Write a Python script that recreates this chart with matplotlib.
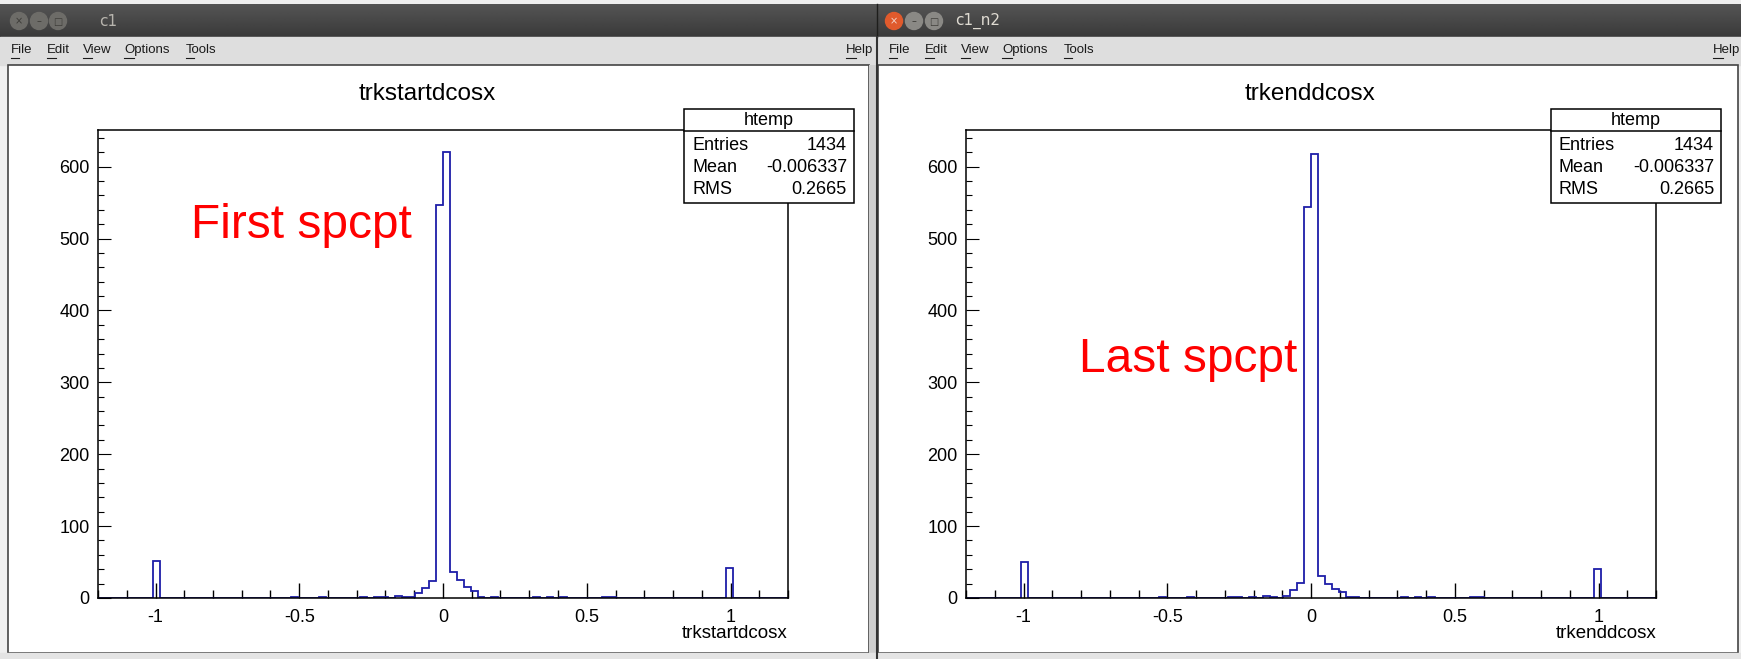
import numpy as np
import matplotlib.pyplot as plt
from matplotlib.patches import Rectangle, Circle
from matplotlib.ticker import MultipleLocator, FixedLocator

plt.rcParams['font.family'] = ['Liberation Sans', 'DejaVu Sans']
plt.rcParams['axes.unicode_minus'] = False

W, H, DPI = 1741, 659, 100

# ROOT htemp binning
nbins = 100
xlow, xhigh = -1.2, 1.2

# non-empty bins (bin centre, entries) read off the two canvases
start_x = [-0.996, -0.516, -0.420, -0.276, -0.228, -0.204, -0.156, -0.132, -0.108,
           -0.084, -0.060, -0.036, -0.012, 0.012, 0.036, 0.060, 0.084, 0.108,
           0.132, 0.180, 0.324, 0.372, 0.420, 0.564, 0.588, 0.996]
start_counts = [52, 1, 2, 1, 1, 1, 3, 2, 2,
                7, 14, 24, 547, 621, 36, 25, 15, 10,
                2, 1, 1, 1, 1, 1, 2, 42]

end_x = [-0.996, -0.516, -0.420, -0.276, -0.252, -0.204, -0.156, -0.132,
         -0.084, -0.060, -0.036, -0.012, 0.012, 0.036, 0.060, 0.084, 0.108,
         0.132, 0.156, 0.324, 0.372, 0.420, 0.564, 0.588, 0.996]
end_counts = [50, 1, 1, 1, 1, 1, 3, 1,
              3, 11, 21, 544, 618, 31, 19, 13, 9,
              1, 1, 1, 1, 1, 1, 1, 40]

stat_labels = ['Entries', 'Mean', 'RMS']
stat_values = ['1434', '-0.006337', '0.2665']

x_major = [-1, -0.5, 0, 0.5, 1]
x_major_labels = ['-1', '-0.5', '0', '0.5', '1']
y_major = [0, 100, 200, 300, 400, 500, 600]

fig = plt.figure(figsize=(W / DPI, H / DPI), dpi=DPI)


def rect_px(x0, y0, x1, y1):
    return [x0 / W, 1 - y1 / H, (x1 - x0) / W, (y1 - y0) / H]


# ---- window decoration (pixel coordinates, y down) ----
bg = fig.add_axes([0, 0, 1, 1], zorder=0)
bg.axis('off')
bg.add_patch(Rectangle((0, 0), W, H, color='#efefef', zorder=0))

# dark title bars with a slight vertical gradient
grad = np.linspace(0.33, 0.23, 32)[:, None] * np.ones((1, 2))
for x0, x1 in [(0, 877), (877, W)]:
    bg.imshow(grad, cmap='gray', vmin=0, vmax=1, extent=(x0, x1, 37, 4),
              aspect='auto', origin='upper', zorder=1, interpolation='bilinear')
bg.plot([877, 877], [4, 37], color='#1e1e1c', lw=1, zorder=2)

# menu bar
bg.add_patch(Rectangle((0, 37), W, 28, color='#dedede', zorder=1))

# canvases
bg.add_patch(Rectangle((8, 65), 861, 588, fc='white', ec='#444444', lw=1.2, zorder=1))
bg.add_patch(Rectangle((869, 65), 7, 588, fc='#cfcfcf', ec='none', zorder=1))
bg.add_patch(Rectangle((878, 65), 860, 588, fc='white', ec='#444444', lw=1.2, zorder=1))
bg.add_patch(Rectangle((0, 653), W, 6, color='#e4e4e4', zorder=1))
bg.plot([877, 877], [37, 659], color='#333333', lw=1.5, zorder=2)

# title bar buttons
for cx, col, glyph, gc in [(19, '#6d6c68', '×', '#3c3b37'), (39, '#6d6c68', '–', '#3c3b37'),
                           (58, '#6d6c68', '□', '#3c3b37'),
                           (894, '#e05a2c', '×', '#f4d9cf'), (914, '#8a8985', '–', '#3c3b37'),
                           (934, '#8a8985', '□', '#3c3b37')]:
    bg.add_patch(Circle((cx, 21), 8.5, color=col, zorder=3))
    bg.text(cx, 21.5, glyph, ha='center', va='center', fontsize=7, color=gc,
            family='DejaVu Sans', zorder=4)
bg.text(99, 21, 'c1', ha='left', va='center', fontsize=11, color='#b8b5ae',
        family='DejaVu Sans', zorder=4)
bg.text(955, 21, 'c1_n2', ha='left', va='center', fontsize=11, color='#dfdbd2',
        family='DejaVu Sans', zorder=4)

menu_items = []
for off in [0, 878]:
    for x, s in [(11, 'File'), (47, 'Edit'), (83, 'View'), (124, 'Options'), (186, 'Tools')]:
        menu_items.append((x + off, s))
menu_items.append((846, 'Help'))
menu_items.append((1713, 'Help'))
for x, s in menu_items:
    bg.text(x, 50, s, ha='left', va='center', fontsize=9.5, color='#1a1a1a', zorder=4)

bg.set_xlim(0, W)
bg.set_ylim(H, 0)

# ---- histograms ----
edges = np.linspace(xlow, xhigh, nbins + 1)


def draw_hist(x0, xs, counts):
    ax = fig.add_axes(rect_px(x0, 130, x0 + 690, 598), zorder=1)
    ax.hist(xs, bins=edges, weights=counts, histtype='step', color='#1e1ea8', lw=1.3)
    ax.set_xlim(xlow, xhigh)
    ax.set_ylim(0, 651)
    ax.xaxis.set_major_locator(FixedLocator(x_major))
    ax.set_xticklabels(x_major_labels)
    ax.xaxis.set_minor_locator(MultipleLocator(0.1))
    ax.yaxis.set_major_locator(FixedLocator(y_major))
    ax.yaxis.set_minor_locator(MultipleLocator(20))
    ax.tick_params(axis='x', which='major', direction='in', length=10.5, width=1,
                   labelsize=13, pad=8)
    ax.tick_params(axis='x', which='minor', direction='in', length=5.5, width=1)
    ax.tick_params(axis='y', which='major', direction='in', length=9, width=0.8,
                   labelsize=13, pad=6)
    ax.tick_params(axis='y', which='minor', direction='in', length=4.5, width=0.8)
    for sp in ax.spines.values():
        sp.set_linewidth(1.1)
        sp.set_color('black')
    return ax


draw_hist(98, start_x, start_counts)
draw_hist(966, end_x, end_counts)

# ---- overlay: titles, stats boxes, annotations ----
top = fig.add_axes([0, 0, 1, 1], zorder=2)
top.axis('off')
top.patch.set_alpha(0)

top.text(427, 94, 'trkstartdcosx', ha='center', va='center', fontsize=17.5)
top.text(1310, 94, 'trkenddcosx', ha='center', va='center', fontsize=17.5)
top.text(788, 633, 'trkstartdcosx', ha='right', va='center', fontsize=13.5)
top.text(1657, 633, 'trkenddcosx', ha='right', va='center', fontsize=13.5)

for bx in [684, 1551]:
    top.add_patch(Rectangle((bx, 109), 170, 94, fc='white', ec='black', lw=1.1))
    top.plot([bx, bx + 170], [131, 131], color='black', lw=1.1)
    top.text(bx + 85, 120.5, 'htemp', ha='center', va='center', fontsize=13)
    for i, (lab, val) in enumerate(zip(stat_labels, stat_values)):
        yy = 146 + 22 * i
        top.text(bx + 8, yy, lab, ha='left', va='center', fontsize=13)
        top.text(bx + 163, yy, val, ha='right', va='center', fontsize=13)

top.text(191, 238, 'First spcpt', ha='left', va='baseline', fontsize=34.5, color='#ff0000')
top.text(1079, 372, 'Last spcpt', ha='left', va='baseline', fontsize=34.5, color='#ff0000')

top.set_xlim(0, W)
top.set_ylim(H, 0)

# underline menu mnemonics
fig.canvas.draw()
rend = fig.canvas.get_renderer()
for x, s in menu_items:
    t = bg.text(x, 50, s[0], ha='left', va='center', fontsize=9.5, alpha=0)
    w = t.get_window_extent(rend).width
    bg.plot([x, x + w], [58, 58], color='#1a1a1a', lw=0.8, zorder=4)

fig.savefig('out.png', dpi=DPI)
